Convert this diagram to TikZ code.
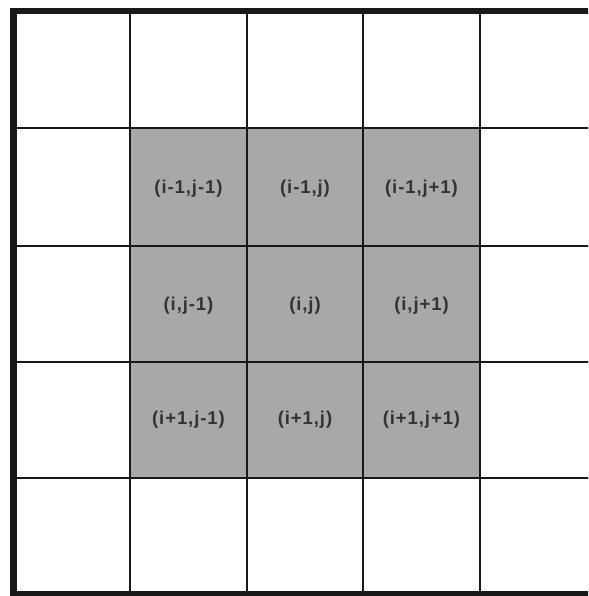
\documentclass[tikz,border=0pt]{standalone}
\usepackage{fontspec}
\setmainfont{Liberation Sans}
\begin{document}
\begin{tikzpicture}[x=1pt,y=-1pt,
  cellfill/.style={fill=black!34},
  gridline/.style={line width=2.4pt,draw=black!90},
  outerline/.style={line width=6.5pt,draw=black!90},
  lbl/.style={font=\fontsize{18.5}{18.5}\selectfont\bfseries\addfontfeatures{LetterSpace=5},text=black!80,inner sep=0pt}]
\useasboundingbox (0,0) rectangle (588,596);
\begin{scope}
\clip (0,0) rectangle (588,596);
\fill[white] (0,0) rectangle (588,596);
\fill[cellfill] (130,128) rectangle (480,478);
% inner grid lines
\foreach \x in {130,247,363,480} \draw[gridline] (\x,11) -- (\x,594);
\foreach \y in {128,246,362,478} \draw[gridline] (13.5,\y) -- (600,\y);
% outer border
\draw[outerline] (600,11) -- (13.5,11) -- (13.5,594) -- (600,594);
\end{scope}
\node[lbl] (a11) at (188.5,189) {(i-1,j-1)};
\node[lbl] (a12) at (305,189) {(i-1,j)};
\node[lbl] (a13) at (421.5,189) {(i-1,j+1)};
\node[lbl] (a21) at (188.5,306) {(i,j-1)};
\node[lbl] (a22) at (305,306) {(i,j)};
\node[lbl] (a23) at (421.5,306) {(i,j+1)};
\node[lbl] (a31) at (188.5,420) {(i+1,j-1)};
\node[lbl] (a32) at (305,420) {(i+1,j)};
\node[lbl] (a33) at (421.5,420) {(i+1,j+1)};
\end{tikzpicture}
\end{document}
